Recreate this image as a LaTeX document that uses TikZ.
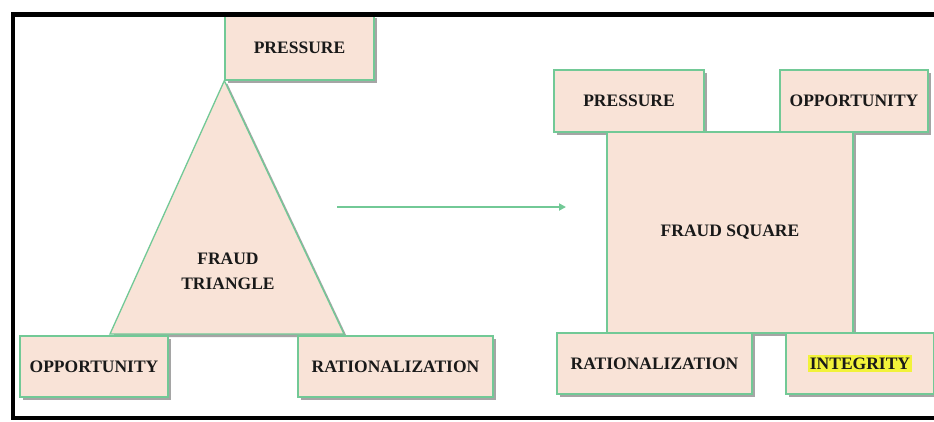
\documentclass[tikz,border=0pt]{standalone}
\usepackage{fontspec}
\setmainfont{Liberation Serif}
\usetikzlibrary{shadows,arrows.meta}
\definecolor{peach}{HTML}{F9E3D7}
\definecolor{edgegreen}{HTML}{72C996}
\definecolor{hl}{HTML}{F2F23A}
\tikzset{
  box/.style={rectangle, draw=edgegreen, fill=peach, line width=1.3pt, inner sep=0pt,
    font=\fontsize{17.5}{20}\selectfont\bfseries, text=black!90,
    drop shadow={shadow xshift=3pt, shadow yshift=-3pt, opacity=0.5, fill=black!70}},
  shape3/.style={draw=edgegreen, fill=peach, line width=1.3pt,
    drop shadow={shadow xshift=3pt, shadow yshift=-3pt, opacity=0.5, fill=black!70}},
  lbl/.style={font=\fontsize{17.5}{25}\selectfont\bfseries, text=black!90, align=center},
  flow/.style={draw=edgegreen, line width=2pt, -{Triangle[length=7pt,width=7pt]}},
  frame/.style={draw=black, line width=4.5pt}
}
\begin{document}
\begin{tikzpicture}[x=1pt,y=-1pt]
\useasboundingbox (0,0) rectangle (934,421);
\fill[white] (0,0) rectangle (934,421);
% left: triangle
\node[box, minimum width=149pt, minimum height=65pt] (pL) at (299.5,47.5) {PRESSURE};
\coordinate (tA) at (pL.south west);
\coordinate (tB) at (110,334);
\coordinate (tC) at (344,334);
\path[shape3] (tA) -- (tB) -- (tC) -- cycle;
\node[lbl] (tri) at (228,271) {FRAUD\\TRIANGLE};
\node[box, minimum width=148pt, minimum height=61pt] (oL) at (94,366.5) {OPPORTUNITY};
\node[box, minimum width=195pt, minimum height=61pt] (rL) at (395.5,366.5) {RATIONALIZATION};
% arrow
\coordinate (a1) at (337,207);
\coordinate (a2) at (566,207);
\draw[flow] (a1) -- (a2);
% right: square
\node[box, minimum width=150pt, minimum height=62pt] (pR) at (629,101) {PRESSURE};
\node[box, minimum width=148pt, minimum height=62pt] (oR) at (854,101) {OPPORTUNITY};
\node[box, minimum width=246pt, minimum height=201pt] (sq) at (730,232.5) {FRAUD SQUARE};
\node[box, minimum width=195pt, minimum height=61pt] (rR) at (654.5,363.5) {RATIONALIZATION};
\node[box, minimum width=148pt, minimum height=61pt] (iR) at (860,363.5) {};
\node[lbl, fill=hl, inner xsep=1.5pt, inner ysep=3pt] (iRt) at (iR.center) {INTEGRITY};
% frame
\draw[frame] (934,14.5) -- (13,14.5) -- (13,418) -- (934,418);
\end{tikzpicture}
\end{document}
